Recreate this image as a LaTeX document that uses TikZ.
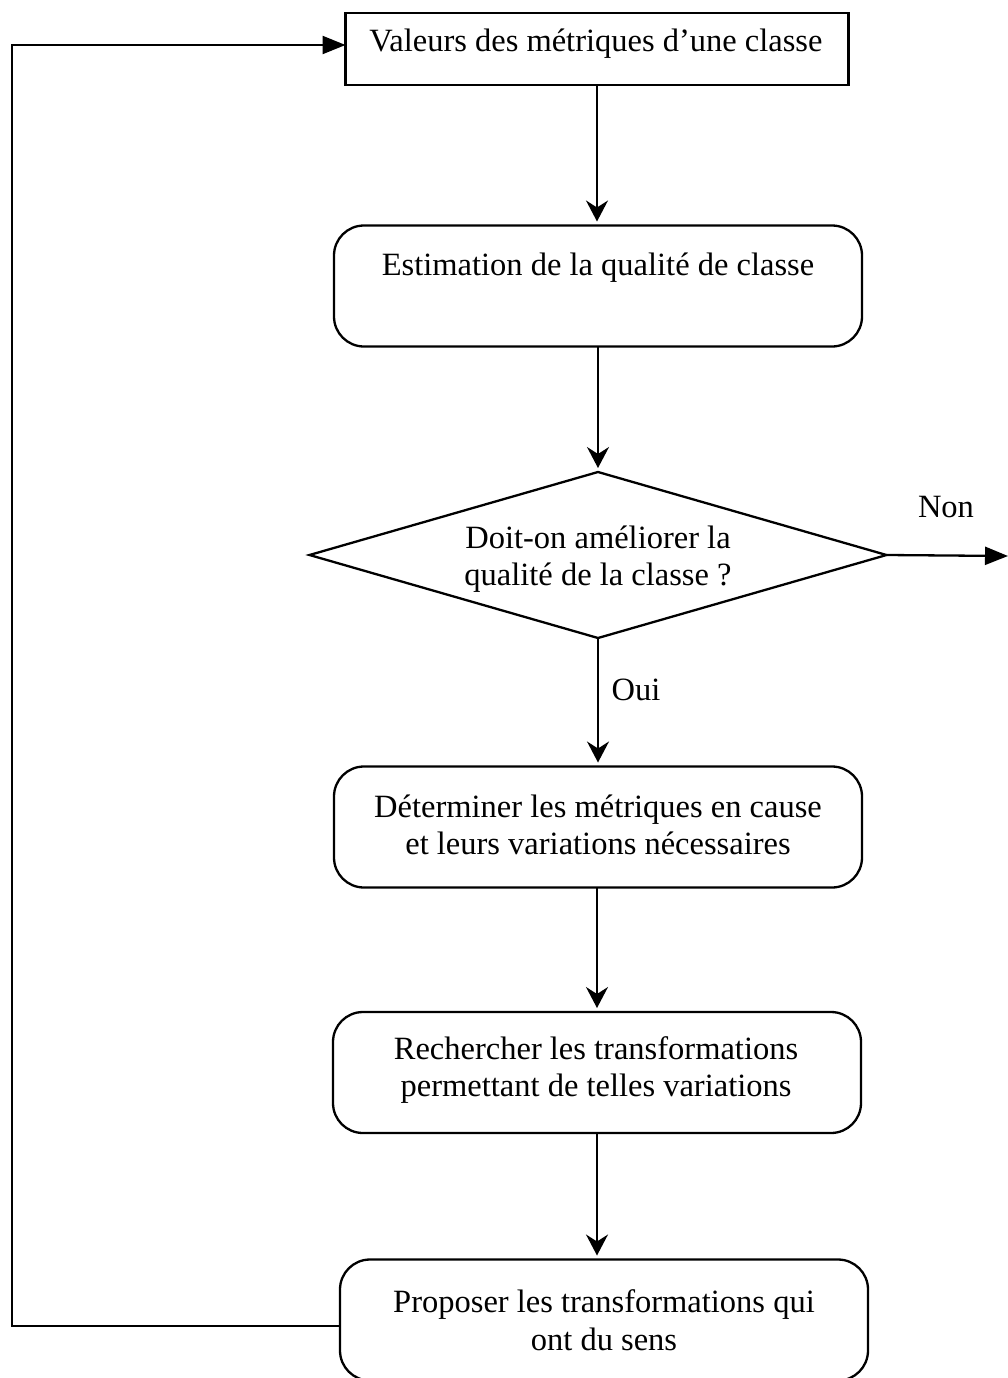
\documentclass[tikz,border=0pt]{standalone}
\usepackage{fontspec}
\setmainfont{Liberation Serif}
\usetikzlibrary{shapes.geometric,arrows.meta}
\begin{document}
\begin{tikzpicture}[x=1pt,y=-1pt,
  every node/.style={inner sep=0pt,outer sep=0pt},
  plainbox/.style={draw,line width=2.3pt,rectangle,minimum width=503pt,minimum height=72pt},
  roundbox/.style={draw,line width=2.3pt,rectangle,rounded corners=30pt,minimum width=528pt,minimum height=121pt},
  decision/.style={draw,line width=2.3pt,diamond,minimum width=577pt,minimum height=166pt},
  txt/.style={font=\fontsize{32.5}{37.5}\selectfont,align=center},
  downarr/.style={line width=1.8pt,-{Stealth[length=21pt,width=22pt,inset=7pt]},shorten >=4pt},
  sidearr/.style={line width=2.3pt,-{Triangle[length=23pt,width=18pt]}}]
\useasboundingbox (0,0) rectangle (1008,1378);

% process boxes
\node[plainbox] (p1) at (597,49) {};
\node[roundbox] (p2) at (598,286) {};
\node[decision] (d)  at (598,555) {};
\node[roundbox] (p3) at (598,827) {};
\node[roundbox] (p4) at (597,1072.5) {};
\node[roundbox] (p5) at (604,1320) {};

% box texts
\node[txt] (t1) at (596,44) {Valeurs des métriques d’une classe};
\node[txt] (t2) at (598,268) {Estimation de la qualité de classe};
\node[txt] (t3) at (598,559) {Doit-on améliorer la\\qualité de la classe ?};
\node[txt] (t4) at (598,825) {Déterminer les métriques en cause\\et leurs variations nécessaires};
\node[txt] (t5) at (596,1070) {Rechercher les transformations\\permettant de telles variations};
\node[txt] (t6) at (604,1320) {Proposer les transformations qui\\ont du sens};

% branch labels
\node[txt] (non) at (946,507) {Non};
\node[txt] (oui) at (636,690) {Oui};

% connectors
\coordinate (nonend) at (1008,556);
\coordinate (loopc) at (12,1326);
\draw[downarr] (p1.south) -- (p1.south |- p2.north);
\draw[downarr] (p2.south) -- (p2.south |- d.north);
\draw[downarr] (d.south) -- (d.south |- p3.north);
\draw[downarr] (p3.south -| p4.north) -- (p4.north);
\draw[downarr] (p4.south) -- (p4.south |- p5.north);
\draw[sidearr] (d.east) -- (nonend);
\draw[sidearr] ([yshift=-6pt]p5.west) -- (loopc) |- ([yshift=4pt]p1.west);
\end{tikzpicture}
\end{document}
